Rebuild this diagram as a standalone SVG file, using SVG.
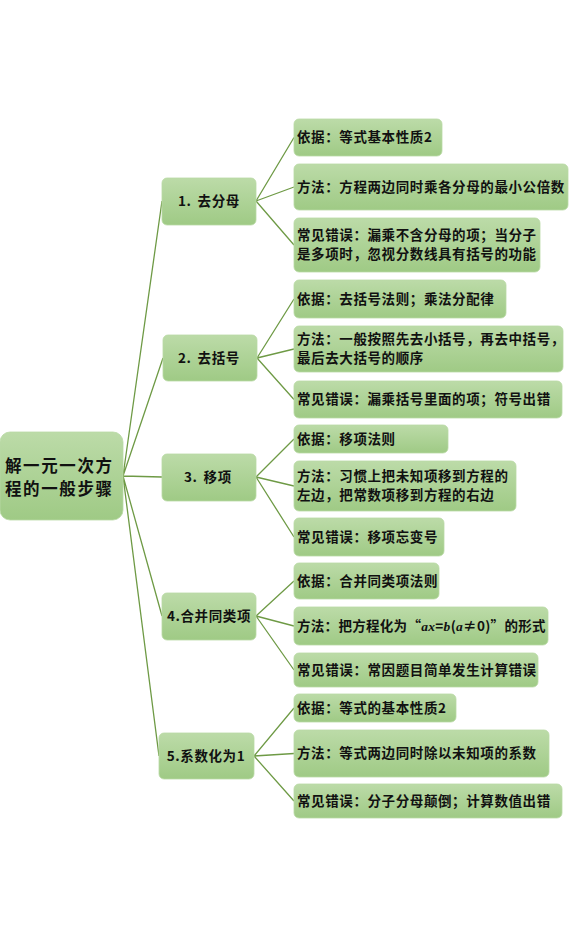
<svg xmlns="http://www.w3.org/2000/svg" width="569" height="937" viewBox="0 0 569 937">
<defs>
<linearGradient id="g" x1="0" y1="0" x2="0" y2="1">
<stop offset="0" stop-color="#bcdba8"/>
<stop offset="1" stop-color="#9fca85"/>
</linearGradient>
<style>
.n{fill:url(#g);stroke:#b9d9a4;stroke-width:0.8}
.t{font-family:"Noto Sans CJK SC","Liberation Serif",sans-serif;font-weight:bold;font-size:13.5px;letter-spacing:0.6px;fill:#111}
.r{font-size:16.5px;letter-spacing:1.6px}
.c{fill:none;stroke:#6e9a45;stroke-width:1.3}
.i{font-family:"Liberation Serif",serif;font-style:italic}
</style>
</defs>
<rect width="569" height="937" fill="#fff"/>
<g id="connectors">
<path class="c" d="M123 476L162 201M123 476L163 358M123 476L162 477M123 476L162 616M123 476L159 756"/>
<path class="c" d="M256 201L294 137.5M256 201L294 187M256 201L294 245"/>
<path class="c" d="M257 358L294 299M257 358L294 349M257 358L294 399.5"/>
<path class="c" d="M256 477L294 439M256 477L294 486M256 477L294 537"/>
<path class="c" d="M256 616L294 581M256 616L294 626M256 616L294 670"/>
<path class="c" d="M254 756L294 708M254 756L294 753.5M254 756L294 801"/>
</g>
<g id="root">
<rect class="n" x="0" y="432" width="123" height="88" rx="10"/>
<text class="t r" x="5" y="472">解一元一次方</text>
<text class="t r" x="5" y="495">程的一般步骤</text>
</g>
<g id="s1">
<rect class="n" x="162" y="178" width="94" height="47" rx="5"/>
<text class="t" x="178" y="206">1.<tspan dx="6">去分母</tspan></text>
</g>
<g id="s1a"><rect class="n" x="294" y="119" width="148" height="37" rx="5"/><text class="t" x="297" y="142">依据：等式基本性质2</text></g>
<g id="s1b"><rect class="n" x="294" y="164" width="274" height="46" rx="5"/><text class="t" x="297" y="192">方法：方程两边同时乘各分母的最小公倍数</text></g>
<g id="s1c"><rect class="n" x="294" y="218" width="246" height="54" rx="5"/><text class="t" x="297" y="240">常见错误：漏乘不含分母的项；当分子</text><text class="t" x="297" y="259">是多项时，忽视分数线具有括号的功能</text></g>
<g id="s2">
<rect class="n" x="163" y="335" width="94" height="46" rx="5"/>
<text class="t" x="178" y="363">2.<tspan dx="6">去括号</tspan></text>
</g>
<g id="s2a"><rect class="n" x="294" y="280" width="212" height="38" rx="5"/><text class="t" x="297" y="304">依据：去括号法则；乘法分配律</text></g>
<g id="s2b"><rect class="n" x="294" y="326" width="269" height="46" rx="5"/><text class="t" x="297" y="344">方法：一般按照先去小括号，再去中括号，</text><text class="t" x="297" y="363">最后去大括号的顺序</text></g>
<g id="s2c"><rect class="n" x="294" y="381" width="268" height="37" rx="5"/><text class="t" x="297" y="404">常见错误：漏乘括号里面的项；符号出错</text></g>
<g id="s3">
<rect class="n" x="162" y="454" width="94" height="47" rx="5"/>
<text class="t" x="184" y="482">3.<tspan dx="6">移项</tspan></text>
</g>
<g id="s3a"><rect class="n" x="294" y="425" width="154" height="28" rx="5"/><text class="t" x="297" y="444">依据：移项法则</text></g>
<g id="s3b"><rect class="n" x="294" y="461" width="222" height="50" rx="5"/><text class="t" x="297" y="481">方法：习惯上把未知项移到方程的</text><text class="t" x="297" y="500">左边，把常数项移到方程的右边</text></g>
<g id="s3c"><rect class="n" x="294" y="518" width="150" height="38" rx="5"/><text class="t" x="297" y="542">常见错误：移项忘变号</text></g>
<g id="s4">
<rect class="n" x="162" y="593" width="94" height="47" rx="5"/>
<text class="t" x="209" y="621" text-anchor="middle">4.合并同类项</text>
</g>
<g id="s4a"><rect class="n" x="294" y="563" width="145" height="36" rx="5"/><text class="t" x="297" y="586">依据：合并同类项法则</text></g>
<g id="s4b"><rect class="n" x="294" y="607" width="254" height="38" rx="5"/><text class="t" x="297" y="631" style="letter-spacing:0.3px">方法：把方程化为“<tspan class="i">ax</tspan>=<tspan class="i">b</tspan>(<tspan class="i">a</tspan>≠0)”的形式</text></g>
<g id="s4c"><rect class="n" x="294" y="653" width="244" height="34" rx="5"/><text class="t" x="297" y="675">常见错误：常因题目简单发生计算错误</text></g>
<g id="s5">
<rect class="n" x="159" y="733" width="95" height="46" rx="5"/>
<text class="t" x="206" y="761" text-anchor="middle">5.系数化为1</text>
</g>
<g id="s5a"><rect class="n" x="294" y="694" width="162" height="28" rx="5"/><text class="t" x="297" y="713">依据：等式的基本性质2</text></g>
<g id="s5b"><rect class="n" x="294" y="730" width="255" height="47" rx="5"/><text class="t" x="297" y="758">方法：等式两边同时除以未知项的系数</text></g>
<g id="s5c"><rect class="n" x="294" y="784" width="268" height="34" rx="5"/><text class="t" x="297" y="806">常见错误：分子分母颠倒；计算数值出错</text></g>
</svg>
